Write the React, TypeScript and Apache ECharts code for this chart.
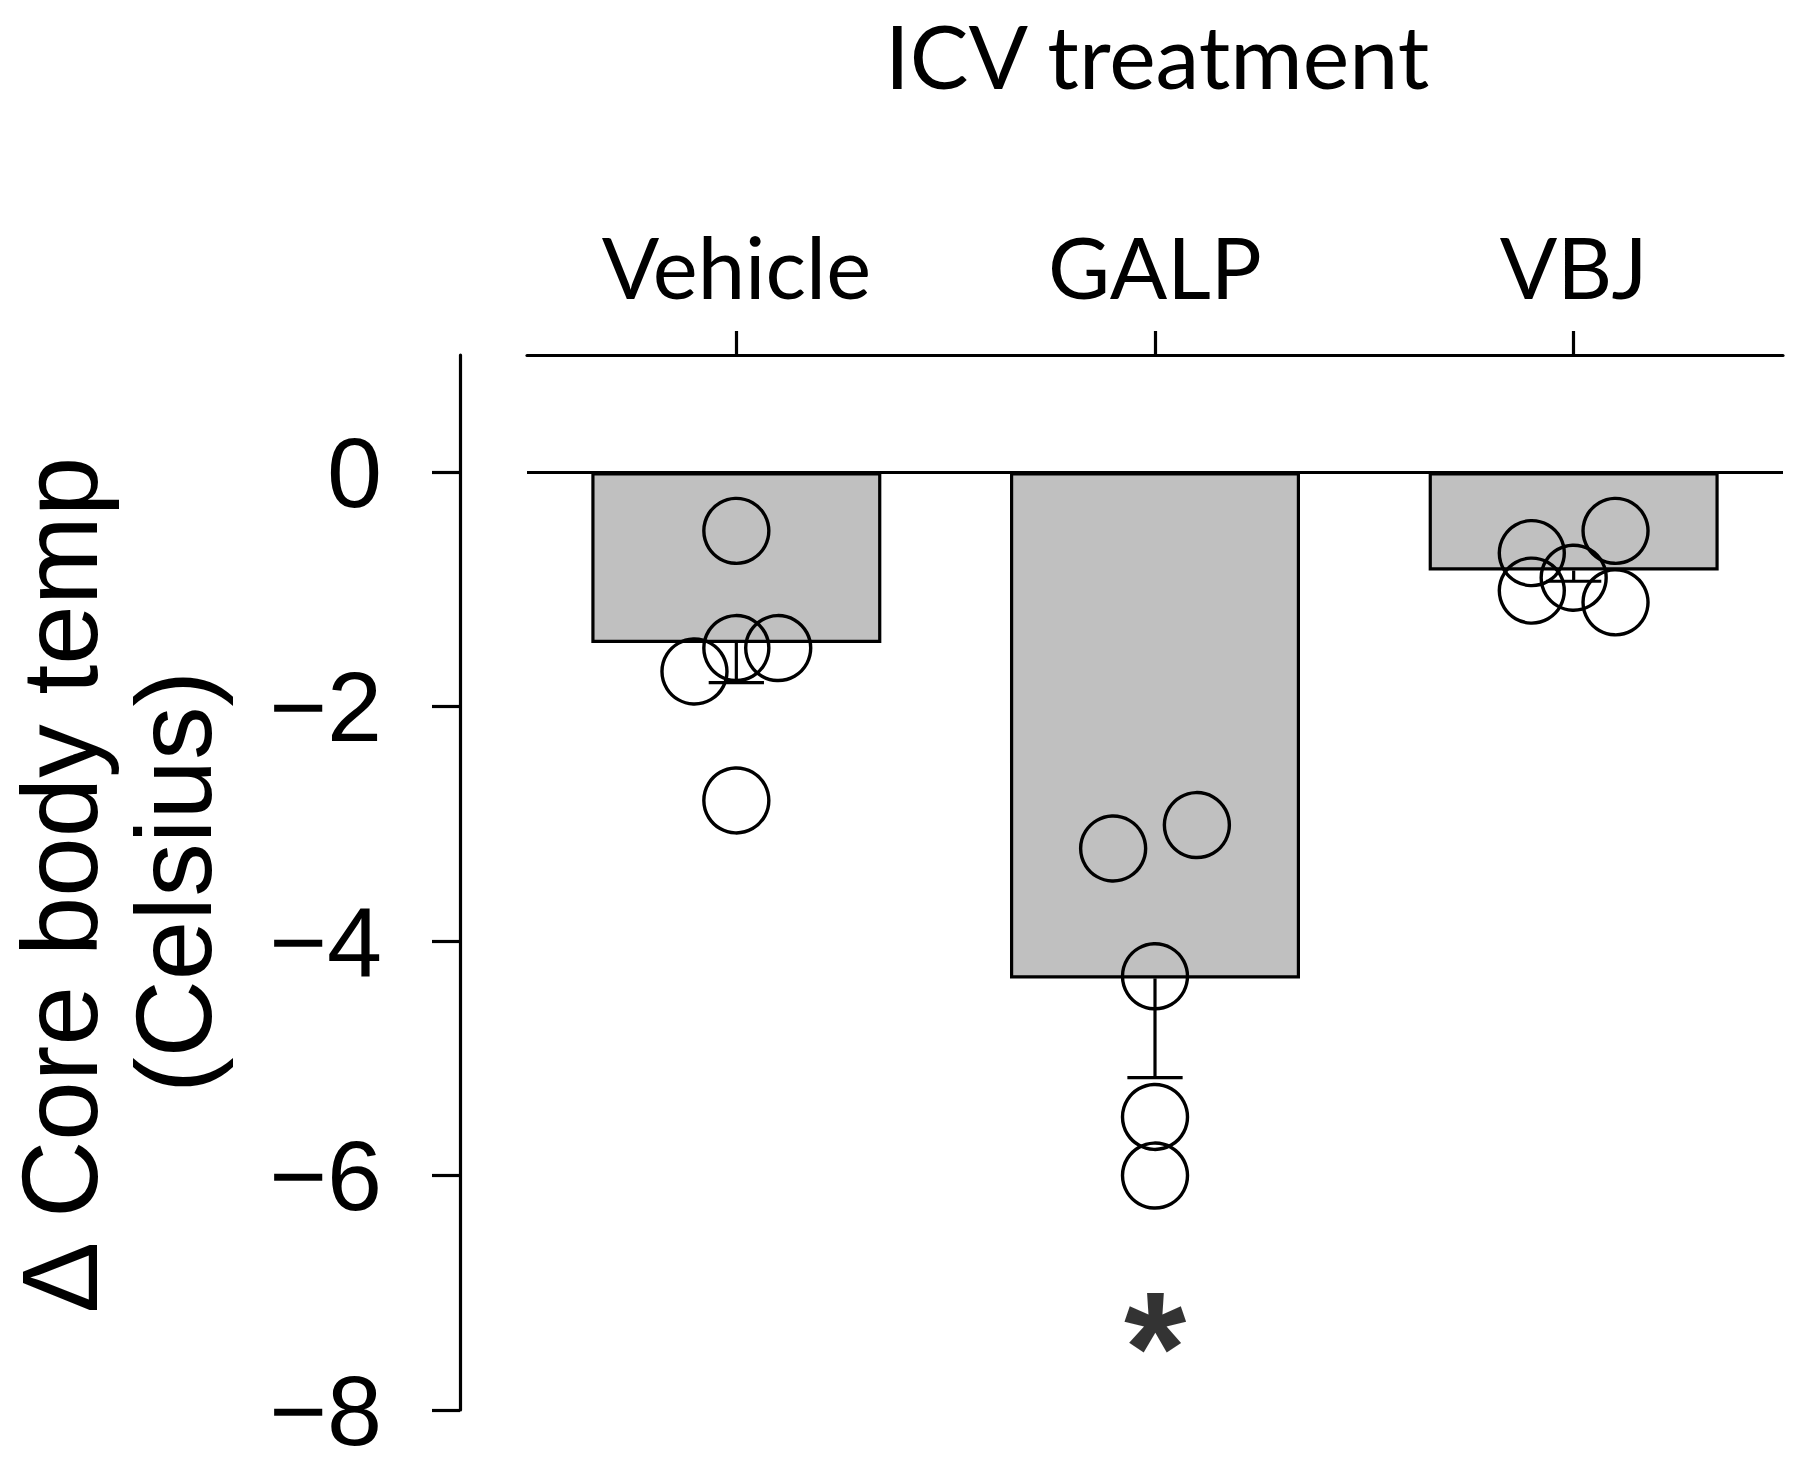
import React, { useEffect, useRef } from "react";
import * as echarts from "echarts";

// ---- data ----
const categories = ["Vehicle", "GALP", "VBJ"];
const barMeans = [-1.456, -4.318, -0.838];
const errLower = [-1.795, -5.165, -0.93];

const vehicleValues = [-0.5, -1.5, -1.5, -1.7, -2.8];
const vehicleJitter = [0, 0, 0.1, -0.1, 0];
const galpValues = [-3.21, -3.01, -4.3, -5.5, -6.0];
const galpJitter = [-0.1, 0.1, 0, 0, 0];
const vbjValues = [-0.5, -0.69, -0.9, -1.01, -1.11];
const vbjJitter = [0.1, -0.1, 0, -0.1, 0.1];

const yTicks = [0, -2, -4, -6, -8];
const sigGroup = 1; // GALP
const sigValue = -7.25;

const titleText = "ICV treatment";
const yNameLine1 = "Δ Core body temp";
const yNameLine2 = "(Celsius)";

export default function App() {
  const ref = useRef<HTMLDivElement>(null);
  useEffect(() => {
    if (!ref.current) return;
    const chart = echarts.init(ref.current, null, { renderer: "svg" });
    const groups = [
      [vehicleValues, vehicleJitter],
      [galpValues, galpJitter],
      [vbjValues, vbjJitter],
    ];
    const points: number[][] = [];
    groups.forEach(([vals, jit], gi) => {
      vals.forEach((v, k) => points.push([gi + 0.5 + jit[k], v]));
    });
    const black = "#000";
    const lw = 3.2;
    const option: any = {
      animation: false,
      backgroundColor: "#fff",
      title: {
        text: titleText,
        left: 885,
        top: 16,
        padding: 0,
        textStyle: { fontFamily: "Lato", fontSize: 88, lineHeight: 78, fontWeight: "normal", color: black },
      },
      grid: { left: 527, right: 17, top: 355, bottom: 57, containLabel: false },
      xAxis: [
        {
          type: "category",
          data: categories,
          position: "top",
          axisLine: { show: true, onZero: false, lineStyle: { color: black, width: lw } },
          axisTick: { show: true, alignWithLabel: true, length: 24, lineStyle: { color: black, width: lw } },
          axisLabel: { fontFamily: "Lato", fontSize: 85, color: black, margin: 47 },
          splitLine: { show: false },
        },
        { type: "value", min: 0, max: 3, show: false },
      ],
      yAxis: {
        type: "value",
        min: -8,
        max: 1,
        offset: 67,
        axisLine: { show: true, onZero: false, lineStyle: { color: black, width: lw } },
        axisTick: { show: true, length: 28, customValues: yTicks, lineStyle: { color: black, width: lw } },
        axisLabel: {
          customValues: yTicks,
          fontFamily: "Liberation Sans",
          fontSize: 99,
          lineHeight: 80,
          color: black,
          margin: 78,
          formatter: (v: number) => String(v).replace("-", "\u2212"),
        },
        splitLine: { show: false },
      },
      graphic: [
        {
          type: "text",
          x: 60,
          y: 885,
          rotation: Math.PI / 2,
          style: {
            text: yNameLine1,
            fontFamily: "Liberation Sans",
            fontSize: 107,
            fill: black,
            align: "center",
            verticalAlign: "middle",
          },
        },
        {
          type: "text",
          x: 174,
          y: 882,
          rotation: Math.PI / 2,
          style: {
            text: yNameLine2,
            fontFamily: "Liberation Sans",
            fontSize: 107,
            fill: black,
            align: "center",
            verticalAlign: "middle",
          },
        },
      ],
      series: [
        {
          type: "bar",
          data: barMeans,
          barWidth: 290,
          xAxisIndex: 0,
          yAxisIndex: 0,
          itemStyle: { color: "#c0c0c0", borderColor: black, borderWidth: lw },
          markLine: {
            silent: true,
            symbol: ["none", "none"],
            label: { show: false },
            lineStyle: { color: black, width: lw, type: "solid" },
            data: [{ yAxis: 0 }],
          },
          z: 2,
        },
        {
          type: "custom",
          xAxisIndex: 0,
          yAxisIndex: 0,
          data: categories.map((_, i) => [i, errLower[i], barMeans[i]]),
          renderItem: (params: any, api: any) => {
            const idx = api.value(0);
            const lo = api.coord([idx, api.value(1)]);
            const hi = api.coord([idx, api.value(2)]);
            const half = api.size([1, 0])[0] * 0.066;
            const style = { stroke: black, lineWidth: lw };
            return {
              type: "group",
              children: [
                { type: "line", shape: { x1: hi[0], y1: hi[1], x2: lo[0], y2: lo[1] }, style },
                { type: "line", shape: { x1: lo[0] - half, y1: lo[1], x2: lo[0] + half, y2: lo[1] }, style },
              ],
            };
          },
          z: 3,
        },
        {
          type: "scatter",
          xAxisIndex: 1,
          yAxisIndex: 0,
          data: points,
          symbol: "circle",
          symbolSize: 65,
          itemStyle: { color: "rgba(0,0,0,0)", borderColor: black, borderWidth: 3.4, opacity: 1 },
          z: 4,
        },
        {
          type: "scatter",
          xAxisIndex: 1,
          yAxisIndex: 0,
          data: [[sigGroup + 0.5, sigValue]],
          symbolSize: 1,
          itemStyle: { color: "rgba(0,0,0,0)" },
          label: {
            show: true,
            position: "inside",
            formatter: "*",
            fontFamily: "Liberation Sans",
            fontWeight: "bold",
            fontSize: 160,
            lineHeight: 120,
            color: black,
            offset: [0, 25],
          },
          z: 5,
        },
      ],
    };
    chart.setOption(option);
    return () => chart.dispose();
  }, []);
  return (
    <div
      ref={ref}
      style={{ position: "absolute", left: 0, top: 0, width: 1800, height: 1467, background: "#fff" }}
    />
  );
}
